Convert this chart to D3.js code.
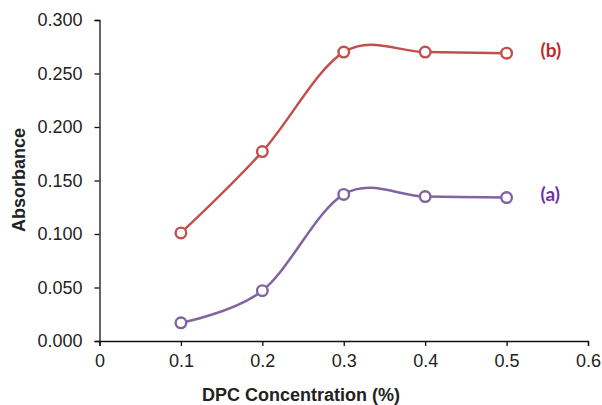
<!DOCTYPE html>
<html>
<head>
<meta charset="utf-8">
<script src="https://cdn.jsdelivr.net/npm/d3@7"></script>
<style>
  body { margin: 0; background: #fff; }
  svg { display: block; }
  .tick text { font-family: "Liberation Sans", Arial, sans-serif; font-size: 18px; fill: #222; }
  .axis-title { font-family: "Liberation Sans", Arial, sans-serif; font-size: 18px; font-weight: bold; fill: #222; }
  .series-label { font-family: Lato, "Open Sans", sans-serif; font-size: 19px; font-weight: bold; }
</style>
</head>
<body>
<script>
// data
const concentration = [0.1, 0.2, 0.3, 0.4, 0.5];
const absorbanceB = [0.101, 0.177, 0.270, 0.270, 0.269];
const absorbanceA = [0.017, 0.047, 0.137, 0.135, 0.134];
const xTicks = [0, 0.1, 0.2, 0.3, 0.4, 0.5, 0.6];
const yTicks = [0, 0.05, 0.1, 0.15, 0.2, 0.25, 0.3];
const seriesNames = ['(b)', '(a)'];

const width = 602, height = 405;

let svg = d3.select('body').append('svg')
  .attr('width', width)
  .attr('height', height);

let x = d3.scaleLinear().domain([0, 0.6]).range([99.5, 588]);
let y = d3.scaleLinear().domain([0, 0.3]).range([341, 20]);

// Axes
let yAxis = svg.append('g')
  .attr('transform', 'translate(99.5,0)')
  .call(d3.axisLeft(y).tickValues(yTicks).tickSize(5).tickPadding(12).tickFormat(d3.format('.3f')));

let xAxis = svg.append('g')
  .attr('transform', 'translate(0,341)')
  .call(d3.axisBottom(x).tickValues(xTicks).tickSize(5).tickPadding(8).tickFormat(d => d === 0 ? '0' : d3.format('.1f')(d)));

[xAxis, yAxis].forEach(ax => {
  ax.select('.domain').attr('stroke', '#111').attr('stroke-width', 1.3);
  ax.selectAll('.tick line').attr('stroke', '#111').attr('stroke-width', 1.3);
  ax.attr('font-size', null).attr('font-family', null);
});

// Axis titles
svg.append('text')
  .attr('class', 'axis-title')
  .attr('x', 301)
  .attr('y', 401)
  .attr('text-anchor', 'middle')
  .text('DPC Concentration (%)');

svg.append('text')
  .attr('class', 'axis-title')
  .attr('transform', 'translate(25,180) rotate(-90)')
  .attr('text-anchor', 'middle')
  .text('Absorbance');

// Series
let series = [
  { name: seriesNames[0], values: absorbanceB, color: '#C0504D', textColor: '#C0282D' },
  { name: seriesNames[1], values: absorbanceA, color: '#8064A2', textColor: '#7030A0' }
];

let line = d3.line()
  .x(d => x(d[0]))
  .y(d => y(d[1]))
  .curve(d3.curveCatmullRom.alpha(0));

series.forEach(s => {
  let pts = concentration.map((c, i) => [c, s.values[i]]);
  svg.append('path')
    .datum(pts)
    .attr('fill', 'none')
    .attr('stroke', s.color)
    .attr('stroke-width', 2.5)
    .attr('d', line);

  svg.append('g')
    .selectAll('circle')
    .data(pts)
    .enter()
    .append('circle')
    .attr('cx', d => x(d[0]))
    .attr('cy', d => y(d[1]))
    .attr('r', 5.3)
    .attr('fill', '#fff')
    .attr('stroke', s.color)
    .attr('stroke-width', 2.4);

  let last = pts[pts.length - 1];
  svg.append('text')
    .attr('class', 'series-label')
    .attr('x', x(last[0]) + 34)
    .attr('y', y(last[1]) - 3)
    .attr('dy', '0.35em')
    .attr('fill', s.textColor)
    .text(s.name);
});
</script>
</body>
</html>
